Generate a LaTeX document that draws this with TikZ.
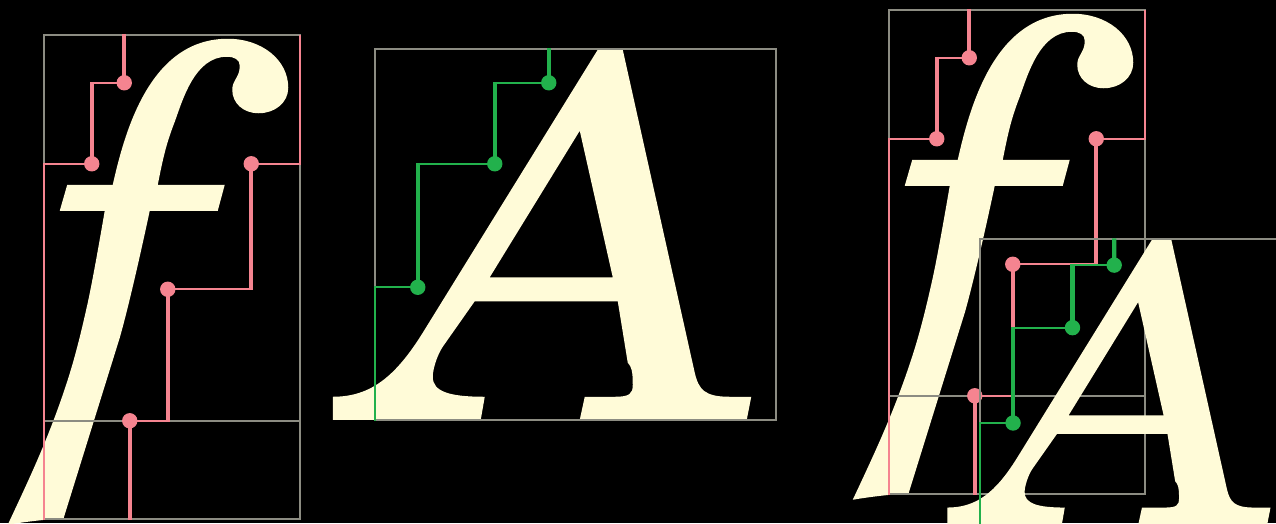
\documentclass[tikz,border=0pt]{standalone}
\usepackage{tikz}
\definecolor{cream}{HTML}{FFFBD8}
\definecolor{boxgray}{HTML}{8C8C82}
\definecolor{rosered}{HTML}{F58490}
\definecolor{leafgreen}{HTML}{22B14C}

\begin{document}
\begin{tikzpicture}[x=1pt,y=-1pt,
    glyph/.style={fill=cream,even odd rule},
    bbox/.style={draw=boxgray,line width=1.8pt},
    wirethick/.style={line width=4.2pt,shorten <=-0.8pt,shorten >=-0.8pt},
    wirethin/.style={line width=1.8pt,line cap=rect},
    dot/.style={circle,inner sep=0pt,minimum size=15.4pt}]
    \def\glyphf{(113,185) .. controls (125,132) and (150,39) .. (228,39)
      .. controls (262,39) and (288.5,60) .. (288.5,88)
      .. controls (288.5,103) and (275,113.5) .. (259,113.5)
      .. controls (243,113.5) and (232.5,103) .. (232.5,90)
      .. controls (232.5,80) and (240,78) .. (240,66)
      .. controls (240,60) and (235,57) .. (227,57)
      .. controls (195,57) and (183,100) .. (175,122)
      .. controls (166,145) and (163,160) .. (158,185)
      -- (225,185) -- (218,211) -- (150,211)
      .. controls (140,258) and (128,310) .. (120,338)
      -- (64,518) .. controls (45,520) and (25,522) .. (8,525)
      .. controls (30,478) and (50,436) .. (68,380)
      .. controls (76,355) and (82,330) .. (88,303)
      .. controls (93,280) and (100,240) .. (105,211)
      -- (60,211) -- (67.5,185) -- cycle}
    \def\glyphA{(598,50) -- (623,50) -- (695,373)
      .. controls (699,390) and (705,397) .. (730,397)
      -- (751.5,397) -- (747,420) -- (580,420) -- (585,397) -- (615,397)
      .. controls (630,397) and (633,394) .. (633,385)
      .. controls (633,372) and (632,367) .. (628,363)
      -- (618,301.5) -- (475,301.5) -- (443,347)
      .. controls (437,356) and (433,370) .. (433,377)
      .. controls (433,392) and (450,397) .. (485,397)
      -- (481,420) -- (333,420) -- (333,397)
      .. controls (370,397) and (395,378) .. (423,333) -- cycle
      (580,131) -- (490,277.5) -- (613,277.5) -- cycle}
    \useasboundingbox (0.25,0.25) rectangle (1276.25,523.25);
    \fill[black] (0.25,0.25) rectangle (1276.25,523.25);
    \clip (0.25,0.25) rectangle (1276.25,523.25);
    \foreach \n/\sx/\sy in {fl/0/0,fr/845/-25}{
      \begin{scope}[shift={(\sx,\sy)}]
        \coordinate (\n tl) at (44.5,35.5);
        \coordinate (\n br) at (300.5,519.5);
        \coordinate (\n t1) at (124.5,35);
        \coordinate (\n tr) at (300.5,36);
        \coordinate (\n b1) at (130,519);
        \fill[glyph] \glyphf;
        \draw[bbox] (\n tl) rectangle (\n br);
        \draw[bbox] (44.5,421) -- (300.5,421);
        \node[dot,fill=rosered] (\n d1) at (124.5,83) {};
        \node[dot,fill=rosered] (\n d2) at (92,164) {};
        \node[dot,fill=rosered] (\n d3) at (251.5,164) {};
        \node[dot,fill=rosered] (\n d4) at (168,289.5) {};
        \node[dot,fill=rosered] (\n d5) at (130,421) {};
        \draw[wirethick,rosered] (\n t1) -- (\n d1);
        \draw[wirethin,rosered] (\n d1.center) -- (\n d1.center -| \n d2.center);
        \draw[wirethick,rosered] (\n d1.center -| \n d2.center) -- (\n d2.center);
        \draw[wirethin,rosered] (\n d2.center) -- (\n d2.center -| \n tl) -- (\n br -| \n tl);
        \draw[wirethin,rosered] (\n tr) -- (\n d3.center -| \n tr) -- (\n d3.center);
        \draw[wirethick,rosered] (\n d3.center) -- (\n d3.center |- \n d4.center);
        \draw[wirethin,rosered] (\n d3.center |- \n d4.center) -- (\n d4.center);
        \draw[wirethick,rosered] (\n d4.center) -- (\n d4.center |- \n d5.center);
        \draw[wirethin,rosered] (\n d4.center |- \n d5.center) -- (\n d5.center);
        \draw[wirethick,rosered] (\n d5.center) -- (\n b1);
      \end{scope}
    }
    \foreach \n/\sx/\sy/\s in {al/0/0/1,ar/690.6/201.3/0.772}{
      \begin{scope}[shift={(\sx,\sy)},scale=\s]
        \coordinate (\n tl) at (375.5,49.5);
        \coordinate (\n br) at (776,420);
        \coordinate (\n t1) at (549,49.5);
        \fill[glyph] \glyphA;
        \draw[bbox] (\n tl) rectangle (\n br);
        \node[dot,fill=leafgreen] (\n d1) at (549,83) {};
        \node[dot,fill=leafgreen] (\n d2) at (495,164) {};
        \node[dot,fill=leafgreen] (\n d3) at (418,287.5) {};
        \draw[wirethick,leafgreen] (\n t1) -- (\n d1);
        \draw[wirethin,leafgreen] (\n d1.center) -- (\n d1.center -| \n d2.center);
        \draw[wirethick,leafgreen] (\n d1.center -| \n d2.center) -- (\n d2.center);
        \draw[wirethin,leafgreen] (\n d2.center) -- (\n d2.center -| \n d3.center);
        \draw[wirethick,leafgreen] (\n d2.center -| \n d3.center) -- (\n d3.center);
        \draw[wirethin,leafgreen] (\n d3.center) -- (\n d3.center -| \n tl) -- (\n br -| \n tl);
      \end{scope}
    }
\end{tikzpicture}
\end{document}
